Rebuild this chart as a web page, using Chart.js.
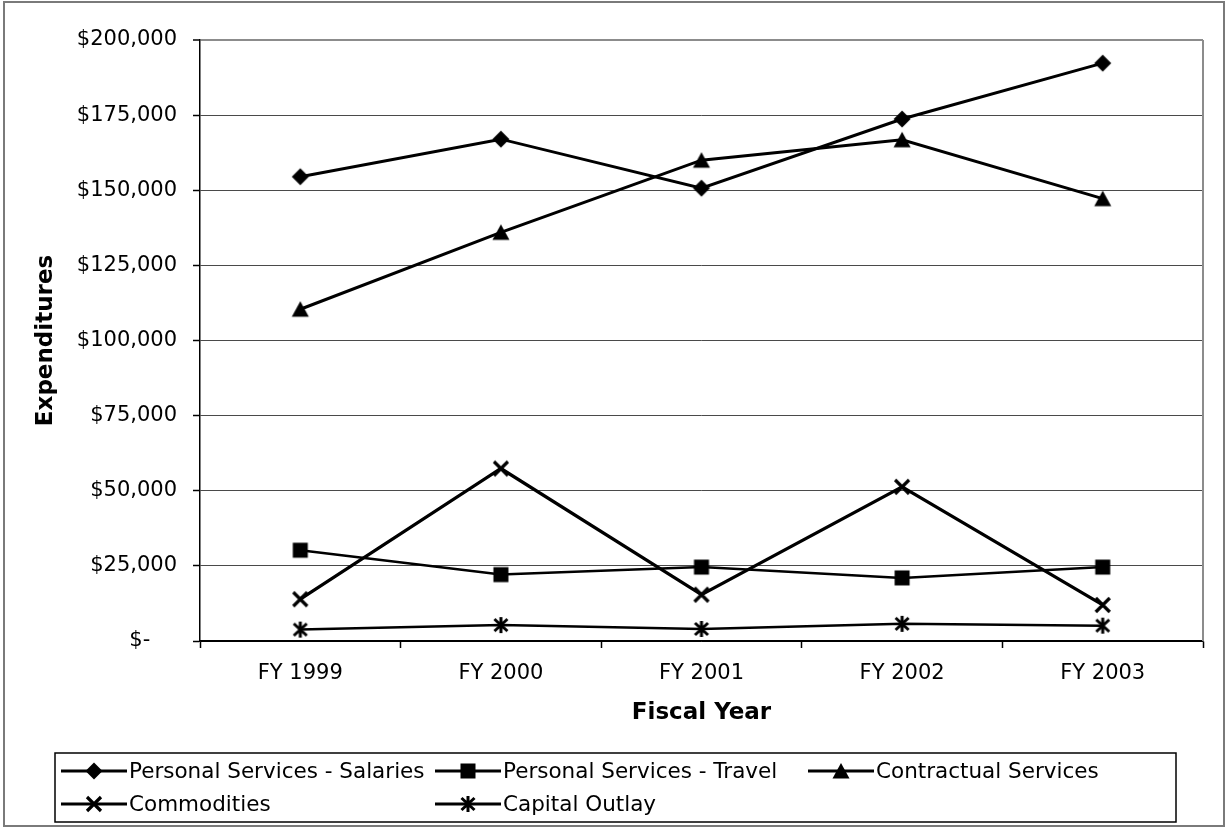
<!DOCTYPE html>
<html>
<head>
<meta charset="utf-8">
<title>Expenditures by Fiscal Year</title>
<script src="https://cdn.jsdelivr.net/npm/chart.js@4.4.1/dist/chart.umd.min.js"></script>
<style>
  html, body { margin: 0; padding: 0; background: #ffffff; }
  canvas { display: block; }
</style>
</head>
<body>
<canvas id="chart" width="1228" height="828"></canvas>
<script>
// Categories and series values (dollars)
const fiscalYears = ['FY 1999', 'FY 2000', 'FY 2001', 'FY 2002', 'FY 2003'];
const salaries = [154500, 167000, 150700, 173700, 192300];
const travel = [30200, 22100, 24600, 21000, 24600];
const contractual = [110400, 136000, 160000, 166800, 147200];
const commodities = [13900, 57400, 15400, 51300, 12000];
const capitalOutlay = [3800, 5300, 4000, 5700, 5100];

const seriesNames = [
  'Personal Services - Salaries',
  'Personal Services - Travel',
  'Contractual Services',
  'Commodities',
  'Capital Outlay'
];

// Value axis tick labels (accounting style)
const yTickLabels = ['$-', '$25,000', '$50,000', '$75,000', '$100,000',
                     '$125,000', '$150,000', '$175,000', '$200,000'];

const FONT = 'DejaVu Sans';

// Marker glyphs drawn once on small canvases, reused for points and legend
function makeMarker(kind) {
  const size = 22, m = size / 2;
  const c = document.createElement('canvas');
  c.width = size; c.height = size;
  const g = c.getContext('2d');
  g.fillStyle = '#000';
  g.strokeStyle = '#000';
  g.beginPath();
  switch (kind) {
    case 'diamond':
      g.moveTo(m, m - 8.5); g.lineTo(m + 8.5, m); g.lineTo(m, m + 8.5); g.lineTo(m - 8.5, m);
      g.closePath(); g.fill();
      break;
    case 'square':
      g.fillRect(m - 7.5, m - 7.5, 15, 15);
      break;
    case 'triangle':
      g.moveTo(m, m - 8); g.lineTo(m + 8.5, m + 7.5); g.lineTo(m - 8.5, m + 7.5);
      g.closePath(); g.fill();
      break;
    case 'cross':
      g.lineWidth = 3.2;
      g.moveTo(m - 7, m - 7); g.lineTo(m + 7, m + 7);
      g.moveTo(m + 7, m - 7); g.lineTo(m - 7, m + 7);
      g.stroke();
      break;
    case 'star':
      g.lineWidth = 3;
      g.moveTo(m, m - 8); g.lineTo(m, m + 8);
      g.moveTo(m - 6.5, m - 6); g.lineTo(m + 6.5, m + 6);
      g.moveTo(m + 6.5, m - 6); g.lineTo(m - 6.5, m + 6);
      g.stroke();
      break;
  }
  return c;
}

const markers = {
  diamond: makeMarker('diamond'),
  square: makeMarker('square'),
  triangle: makeMarker('triangle'),
  cross: makeMarker('cross'),
  star: makeMarker('star')
};

function series(label, data, marker, width) {
  return {
    label: label,
    data: data,
    borderColor: '#000000',
    backgroundColor: '#000000',
    borderWidth: width,
    tension: 0,
    pointStyle: marker,
    pointRadius: 6,
    pointHoverRadius: 6
  };
}

// White page with a grey frame round the whole chart
const framePlugin = {
  id: 'frame',
  beforeDraw(chart) {
    const ctx = chart.ctx;
    ctx.save();
    ctx.fillStyle = '#ffffff';
    ctx.fillRect(0, 0, chart.width, chart.height);
    ctx.strokeStyle = '#7a7a7a';
    ctx.lineWidth = 2;
    ctx.strokeRect(4, 2, chart.width - 8, chart.height - 4);
    ctx.restore();
  },
  beforeDatasetsDraw(chart) {
    const a = chart.chartArea, ctx = chart.ctx;
    ctx.save();
    ctx.strokeStyle = '#8c8c8c';
    ctx.lineWidth = 2;
    ctx.beginPath();
    ctx.moveTo(a.right, a.top);
    ctx.lineTo(a.right, a.bottom);
    ctx.stroke();
    ctx.restore();
  }
};

// Boxed legend below the axis title: line sample with marker, then the name
const legendBox = { left: 55, top: 753, right: 1176, bottom: 822 };
const legendRows = [771, 804];
const legendCols = [61, 435, 808];
const legendPlugin = {
  id: 'boxedLegend',
  afterDraw(chart) {
    const ctx = chart.ctx;
    ctx.save();
    ctx.strokeStyle = '#000';
    ctx.lineWidth = 1.5;
    ctx.strokeRect(legendBox.left, legendBox.top,
                   legendBox.right - legendBox.left, legendBox.bottom - legendBox.top);
    ctx.font = '21.5px "' + FONT + '"';
    ctx.fillStyle = '#000';
    ctx.textBaseline = 'middle';
    ctx.textAlign = 'left';
    chart.data.datasets.forEach((ds, i) => {
      const x = legendCols[i % 3];
      const y = legendRows[Math.floor(i / 3)];
      ctx.lineWidth = 3;
      ctx.beginPath();
      ctx.moveTo(x, y);
      ctx.lineTo(x + 66, y);
      ctx.stroke();
      const img = ds.pointStyle;
      ctx.drawImage(img, Math.round(x + 33 - img.width / 2), Math.round(y - img.height / 2));
      ctx.fillText(ds.label, x + 68, y + 1);
    });
    ctx.restore();
  }
};

new Chart(document.getElementById('chart'), {
  type: 'line',
  data: {
    labels: fiscalYears,
    datasets: [
      series(seriesNames[0], salaries, markers.diamond, 3),
      series(seriesNames[1], travel, markers.square, 2.5),
      series(seriesNames[2], contractual, markers.triangle, 3),
      series(seriesNames[3], commodities, markers.cross, 3.25),
      series(seriesNames[4], capitalOutlay, markers.star, 2.5)
    ]
  },
  options: {
    responsive: false,
    animation: false,
    devicePixelRatio: 1,
    layout: { padding: { left: 10, top: 40, right: 25, bottom: 97 } },
    plugins: {
      legend: { display: false },
      tooltip: { enabled: false }
    },
    scales: {
      x: {
        type: 'category',
        offset: true,
        grid: {
          offset: true,
          drawOnChartArea: false,
          drawTicks: true,
          tickLength: 7,
          tickColor: '#000',
          tickWidth: 1.5
        },
        border: { display: true, color: '#000', width: 1.5 },
        ticks: {
          color: '#000',
          font: { family: FONT, size: 21 },
          padding: 13,
          maxRotation: 0,
          autoSkip: false
        },
        title: {
          display: true,
          text: 'Fiscal Year',
          color: '#000',
          font: { family: FONT, size: 23, weight: 'bold' },
          padding: { top: 0, bottom: 4 }
        },
        afterFit(scale) { scale.height = 90; }
      },
      y: {
        min: 0,
        max: 200000,
        grid: {
          color: ctx => ctx.tick && ctx.tick.value === 0 ? '#000' :
                        (ctx.tick && ctx.tick.value === 200000 ? '#8c8c8c' : '#4a4a4a'),
          lineWidth: ctx => ctx.tick && ctx.tick.value === 200000 ? 2 : 1,
          drawTicks: true,
          tickLength: 7,
          tickColor: '#000',
          tickWidth: 1.5
        },
        border: { display: true, color: '#000', width: 1.5 },
        ticks: {
          stepSize: 25000,
          color: '#000',
          font: { family: FONT, size: 21 },
          padding: 16,
          callback: (value, index) => {
            const label = yTickLabels[index];
            return label === '$-' ? label + '\u2007\u2007' : label;
          }
        },
        title: {
          display: true,
          text: 'Expenditures',
          color: '#000',
          font: { family: FONT, size: 23, weight: 'bold' },
          padding: { top: 22, bottom: 0 }
        },
        afterFit(scale) { scale.width = 190; }
      }
    }
  },
  plugins: [framePlugin, legendPlugin]
});
</script>
</body>
</html>
